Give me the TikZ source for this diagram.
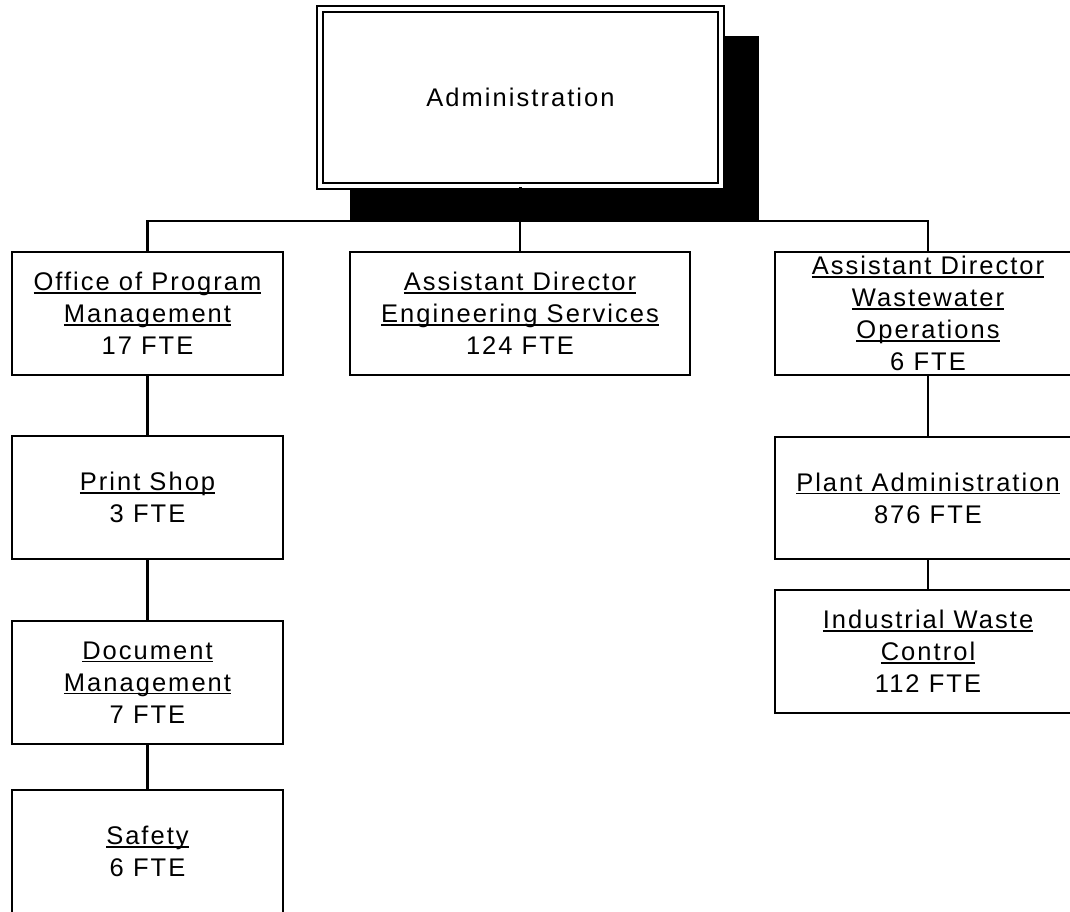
\documentclass[tikz,border=0pt]{standalone}
\usepackage{fontspec}
\setmainfont{Liberation Sans}[LetterSpace=8]
\newlength\ulwd
\newcommand\ulx[1]{\settowidth\ulwd{#1}\rlap{\rule[-3pt]{\ulwd}{1.6pt}}#1}
\begin{document}
\begin{tikzpicture}[x=1pt,y=-1pt,
  unit/.style={draw, line width=2.5pt, fill=white, align=center, inner sep=0pt,
     font=\fontsize{25.5}{32}\selectfont},
  link/.style={line width=2.5pt}]
\useasboundingbox (0,0) rectangle (1070,911);
\begin{scope}
\clip (0,0) rectangle (1070,911);
% shadow of top box
\coordinate (shTL) at (350,36);
\coordinate (shBR) at (759,221);
\fill[black] (shTL) rectangle (shBR);
\node[draw, line width=2pt, double, double distance=4pt, fill=white,
      minimum width=401pt, minimum height=177pt, inner sep=0pt,
      font=\fontsize{25.5}{32}\selectfont] (adm) at (520.5,97.5) {Administration};

\node[unit, minimum width=271pt, minimum height=123pt] (opm) at (147.5,313.5)
  {\ulx{Office of Program}\\\ulx{Management}\\17 FTE};
\node[unit, minimum width=340pt, minimum height=123pt] (eng) at (520,313.5)
  {\ulx{Assistant Director}\\\ulx{Engineering Services}\\124 FTE};
\node[unit, minimum width=306pt, minimum height=123pt] (ww) at (928,313.5)
  {\ulx{Assistant Director}\\\ulx{Wastewater}\\\ulx{Operations}\\6 FTE};

\node[unit, minimum width=271pt, minimum height=123pt] (ps) at (147.5,497.5)
  {\ulx{Print Shop}\\3 FTE};
\node[unit, minimum width=271pt, minimum height=123pt] (doc) at (147.5,682.5)
  {\ulx{Document}\\\ulx{Management}\\7 FTE};
\node[unit, minimum width=271pt, minimum height=123pt] (saf) at (147.5,851.5)
  {\ulx{Safety}\\6 FTE};

\node[unit, minimum width=306pt, minimum height=122pt] (pa) at (928,498)
  {\ulx{Plant Administration}\\876 FTE};
\node[unit, minimum width=306pt, minimum height=123pt] (iw) at (928,651.5)
  {\ulx{Industrial Waste}\\\ulx{Control}\\112 FTE};

\coordinate (bus) at (520,221);
\draw[link] (adm.south) -- (adm.south |- bus);
\draw[link] (opm.north) |- (ww.north |- bus) -- (ww.north);
\draw[link] (eng.north) -- (eng.north |- bus);
\draw[link] (opm.south) -- (ps.north);
\draw[link] (ps.south) -- (doc.north);
\draw[link] (doc.south) -- (saf.north);
\draw[link] (ww.south) -- (pa.north);
\draw[link] (pa.south) -- (iw.north);
\end{scope}
\end{tikzpicture}
\end{document}
